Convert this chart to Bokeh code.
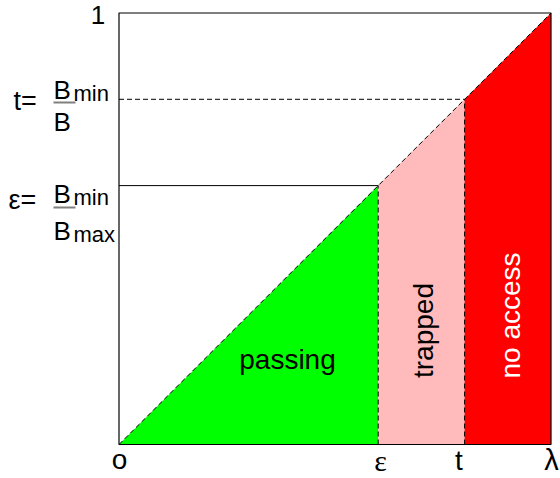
import math
from bokeh.plotting import figure
from bokeh.models import Range1d
from bokeh.core.properties import value
from bokeh.embed import file_html
from bokeh.resources import INLINE

# ---- data ----
eps_val = 0.6          # epsilon = Bmin/Bmax
t_val = 0.8            # t = Bmin/B
lam_max = 1.0
region_names = ["passing", "trapped", "no access"]
region_bounds = [0.0, eps_val, t_val, lam_max]
region_colors = ["#00ff00", "#ffbbbb", "#ff0000"]
region_text_colors = ["black", "black", "white"]
x_tick_labels = ["o", "ε", "t", "λ"]
x_tick_values = [0.0, eps_val, t_val, lam_max]

# ---- geometry (canvas pixels -> data) ----
W, H = 560, 478
X0, XS = 118.5, 432.0      # canvas x of data 0, px per unit
Y0, YS = 444.0, 431.5      # canvas y of data 0, px per unit


def dx(px):
    return (px - X0) / XS


def dy(py):
    return (Y0 - py) / YS


def mid(baseline, fs):
    # convert a wanted baseline to a "middle" anchor
    return dy(baseline - 0.35 * fs)


p = figure(width=W, height=H, output_backend="svg", toolbar_location=None,
           x_range=Range1d(dx(0), dx(W)), y_range=Range1d(dy(H), dy(0)),
           min_border=0, min_border_left=0, min_border_right=0,
           min_border_top=0, min_border_bottom=0)
p.axis.visible = False
p.grid.visible = False
p.outline_line_color = None
p.background_fill_color = "white"
p.border_fill_color = "white"

# ---- filled regions ----
xs, ys = [], []
for i in range(3):
    a, b = region_bounds[i], region_bounds[i + 1]
    if a == 0:
        xs.append([a, b, b])
        ys.append([0, 0, b])
    else:
        xs.append([a, b, b, a])
        ys.append([0, 0, b, a])
p.patches(xs, ys, fill_color=region_colors, line_color=None)

# ---- lines ----
dash = "5 3"
p.line([0, lam_max], [0, lam_max], line_color="black", line_width=1, line_dash=dash)
p.line([eps_val, eps_val], [0, eps_val], line_color="black", line_width=1, line_dash=dash)
p.line([t_val, t_val], [0, t_val], line_color="black", line_width=1, line_dash=dash)
p.line([0, eps_val], [eps_val, eps_val], line_color="black", line_width=1)
p.line([0, t_val], [t_val, t_val], line_color="black", line_width=1, line_dash=dash)

# frame
p.line([0, lam_max, lam_max, 0, 0], [0, 0, 1, 1, 0], line_color="black", line_width=1.2)

# ---- region labels ----
sans = value("Liberation Sans")
mids_x = [dx(287), dx(423), dx(510)]
mids_y = [dy(359), dy(330), dy(315)]
angles = [0, math.pi / 2, math.pi / 2]
for i in range(3):
    p.text([mids_x[i]], [mids_y[i]], text=[region_names[i]], angle=angles[i],
           text_font=sans, text_font_size="28px", text_color=region_text_colors[i],
           text_align="center", text_baseline="middle")

# ---- x "tick" labels ----
tick_x_px = [119, 380, 458.5, 551]
tick_base = [469, 470, 470, 470]
tick_fonts = ["Liberation Sans", "Liberation Serif", "Liberation Sans", "Liberation Sans"]
tick_sizes = [28, 30, 28, 29]
for lab, xp, yb, f, s in zip(x_tick_labels, tick_x_px, tick_base, tick_fonts, tick_sizes):
    p.text([dx(xp)], [mid(yb, s)], text=[lab], text_font=value(f),
           text_font_size=f"{s}px", text_color="black", text_align="center",
           text_baseline="middle")

# top "1"
p.text([dx(97.5)], [mid(24, 26)], text=["1"], text_font=sans, text_font_size="26px",
       text_color="black", text_align="center", text_baseline="middle")


# ---- y labels with fractions ----
def frac_label(prefix, prefix_x, prefix_base, num_base, bar_y, den_base, den_sub):
    p.text([dx(prefix_x)], [mid(prefix_base, 27)], text=[prefix], text_font=sans,
           text_font_size="27px", text_color="black", text_align="left",
           text_baseline="middle")
    p.text([dx(53)], [mid(num_base, 26)], text=["B"], text_font=sans,
           text_font_size="26px", text_color="black", text_align="left",
           text_baseline="middle")
    p.text([dx(73)], [mid(num_base + 2, 22)], text=["min"], text_font=sans,
           text_font_size="22px", text_color="black", text_align="left",
           text_baseline="middle")
    p.line([dx(53), dx(75)], [dy(bar_y), dy(bar_y)], line_color="#808080", line_width=2)
    p.text([dx(53)], [mid(den_base, 26)], text=["B"], text_font=sans,
           text_font_size="26px", text_color="black", text_align="left",
           text_baseline="middle")
    if den_sub:
        p.text([dx(73)], [mid(den_base + 2, 22)], text=[den_sub], text_font=sans,
               text_font_size="22px", text_color="black", text_align="left",
               text_baseline="middle")


frac_label("t=", 13, 110, 99, 102, 131, "")
frac_label("ε=", 8, 209, 203, 207, 240, "max")

open("out.html", "w").write(file_html(p, INLINE))
